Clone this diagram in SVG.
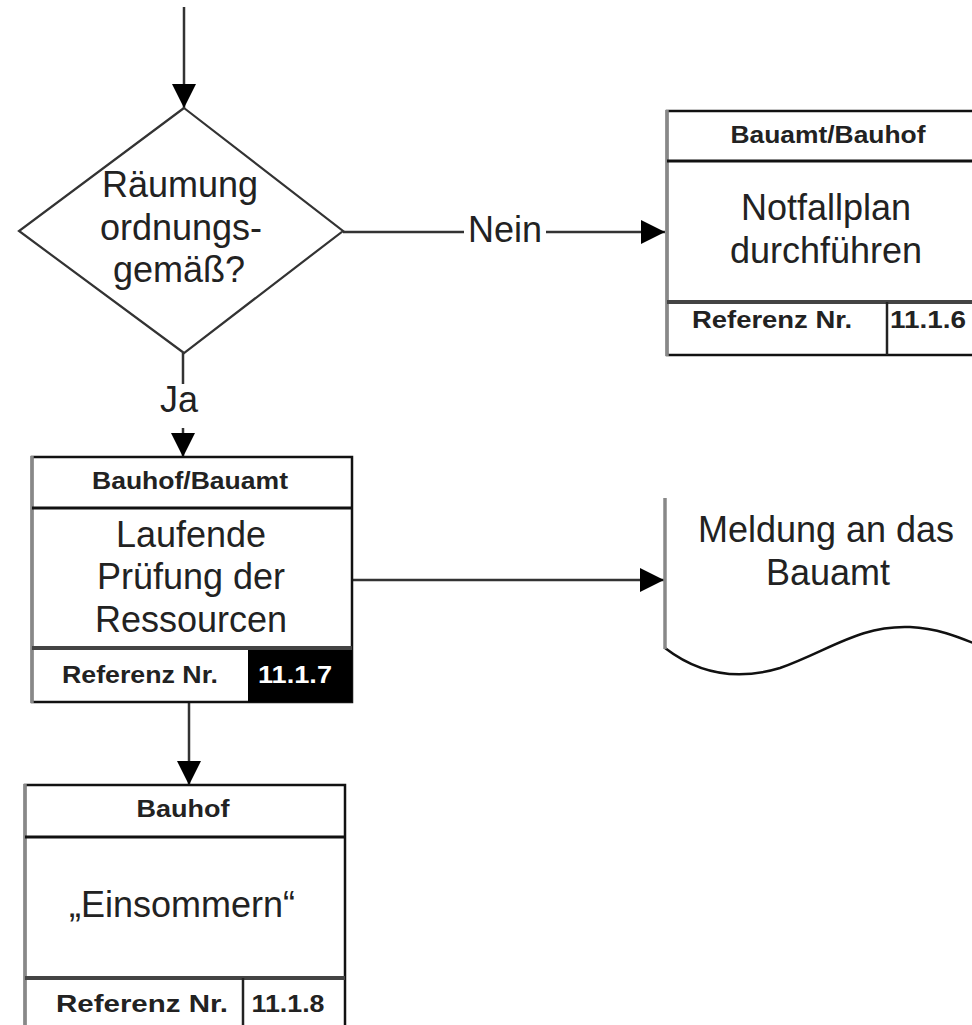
<svg xmlns="http://www.w3.org/2000/svg" width="972" height="1025" viewBox="0 0 972 1025">
<style>
.big{font-family:"Liberation Sans",Arial,sans-serif;font-size:36px;fill:#222;text-anchor:middle}
.sm{font-family:"Liberation Sans",Arial,sans-serif;font-size:23px;font-weight:bold;fill:#222;text-anchor:middle}
.box{fill:#fff;stroke:#111;stroke-width:2.5}
.lft{stroke:#888;stroke-width:3.5}
.hdiv{stroke:#111;stroke-width:3}
.fdiv{stroke:#444;stroke-width:4}
.vdiv{stroke:#222;stroke-width:2.5}
.conn{stroke:#333;stroke-width:2.5;fill:none}
</style>
<defs>
<marker id="ah" markerUnits="userSpaceOnUse" markerWidth="24" markerHeight="24" refX="24" refY="12" orient="auto">
<path d="M0,0 L24,12 L0,24 Z" fill="#000"/>
</marker>
</defs>
<rect width="972" height="1025" fill="#fff"/>

<g id="connectors">
<line class="conn" x1="184" y1="7" x2="184" y2="108" marker-end="url(#ah)"/>
<line class="conn" x1="343" y1="232" x2="665" y2="232" marker-end="url(#ah)"/>
<rect x="464" y="212" width="82" height="38" fill="#fff"/>
<text class="big" x="505" y="242">Nein</text>
<line class="conn" x1="183" y1="353" x2="183" y2="457" marker-end="url(#ah)"/>
<rect x="158" y="384" width="44" height="44" fill="#fff"/>
<text class="big" x="179" y="412" font-size="34">Ja</text>
<line class="conn" x1="352" y1="580" x2="664" y2="580" marker-end="url(#ah)"/>
<line class="conn" x1="189" y1="703" x2="189" y2="785" marker-end="url(#ah)"/>
</g>

<g id="decision">
<polygon points="184,108 343,231 184,353 19,231" fill="#fff" stroke="#333" stroke-width="2.2"/>
<text class="big" x="180" y="197">Räumung</text>
<text class="big" x="181" y="240">ordnungs-</text>
<text class="big" x="179" y="282">gemäß?</text>
</g>

<g id="notfallplan">
<rect class="box" x="667" y="111" width="330" height="244"/>
<line class="lft" x1="667" y1="110" x2="667" y2="356"/>
<line class="hdiv" x1="667" y1="161" x2="980" y2="161"/>
<line class="fdiv" x1="667" y1="302" x2="980" y2="302"/>
<line class="vdiv" x1="887" y1="302" x2="887" y2="355"/>
<text class="sm" x="828" y="143" textLength="195" lengthAdjust="spacingAndGlyphs">Bauamt/Bauhof</text>
<text class="big" x="826" y="220">Notfallplan</text>
<text class="big" x="826" y="263">durchführen</text>
<text class="sm" x="772" y="328" textLength="160" lengthAdjust="spacingAndGlyphs">Referenz Nr.</text>
<text class="sm" x="928" y="328" textLength="76" lengthAdjust="spacingAndGlyphs">11.1.6</text>
</g>

<g id="laufende">
<rect class="box" x="32" y="457" width="320" height="245"/>
<rect x="248" y="648" width="104" height="54" fill="#000"/>
<line class="lft" x1="32" y1="456" x2="32" y2="703"/>
<line class="hdiv" x1="32" y1="508" x2="352" y2="508"/>
<line class="fdiv" x1="32" y1="648" x2="352" y2="648"/>
<text class="sm" x="190" y="489" textLength="196" lengthAdjust="spacingAndGlyphs">Bauhof/Bauamt</text>
<text class="big" x="191" y="547">Laufende</text>
<text class="big" x="191" y="589">Prüfung der</text>
<text class="big" x="191" y="632">Ressourcen</text>
<text class="sm" x="140" y="683" textLength="156" lengthAdjust="spacingAndGlyphs">Referenz Nr.</text>
<text class="sm" x="295" y="683" textLength="74" lengthAdjust="spacingAndGlyphs" style="fill:#fff">11.1.7</text>
</g>

<g id="meldung">
<path d="M665,498 L990,498 L990,650 C955,635 935,628 910,627 C860,625 830,650 780,668 C740,680 700,675 665,648 Z" fill="#fff" stroke="none"/>
<path d="M990,650 C955,635 935,628 910,627 C860,625 830,650 780,668 C740,680 700,675 665,648" fill="none" stroke="#111" stroke-width="2.5"/>
<line class="lft" x1="665" y1="498" x2="665" y2="649"/>
<text class="big" x="826" y="542">Meldung an das</text>
<text class="big" x="828" y="585">Bauamt</text>
</g>

<g id="bauhof">
<rect class="box" x="25" y="785" width="320" height="260"/>
<line class="lft" x1="25" y1="784" x2="25" y2="1030"/>
<line class="hdiv" x1="25" y1="837" x2="345" y2="837"/>
<line class="fdiv" x1="25" y1="978" x2="345" y2="978"/>
<line class="vdiv" x1="243" y1="978" x2="243" y2="1030"/>
<text class="sm" x="183" y="817" textLength="93" lengthAdjust="spacingAndGlyphs">Bauhof</text>
<text class="big" x="182" y="917">„Einsommern“</text>
<text class="sm" x="142" y="1012" textLength="172" lengthAdjust="spacingAndGlyphs">Referenz Nr.</text>
<text class="sm" x="288" y="1012" textLength="73" lengthAdjust="spacingAndGlyphs">11.1.8</text>
</g>
</svg>
